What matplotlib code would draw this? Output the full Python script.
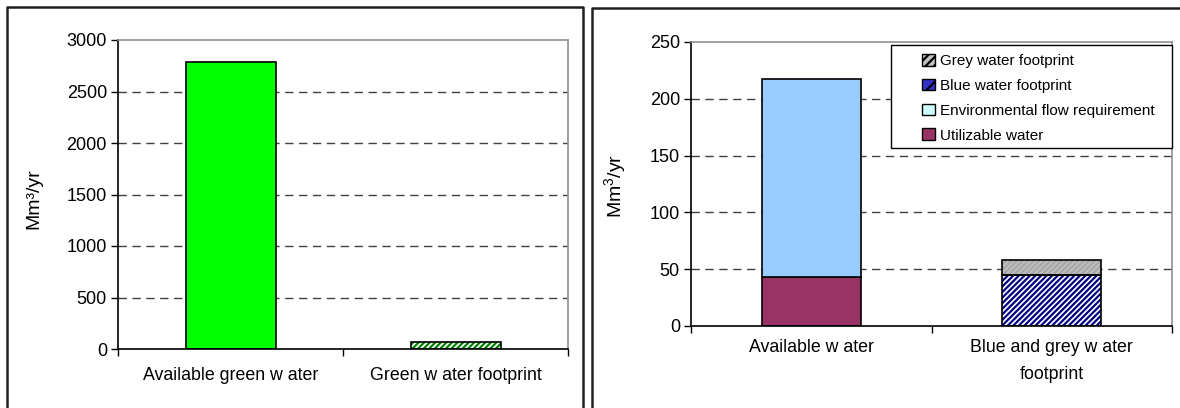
import matplotlib
matplotlib.use("Agg")
import matplotlib.pyplot as plt
from matplotlib.patches import Patch, Rectangle
from matplotlib.lines import Line2D

plt.rcParams['font.family'] = ['Liberation Sans', 'DejaVu Sans']
plt.rcParams['mathtext.fontset'] = 'custom'
plt.rcParams['mathtext.rm'] = 'Liberation Sans'
plt.rcParams['mathtext.default'] = 'rm'
plt.rcParams['hatch.linewidth'] = 1.6

# ---- data ----
left_categories = ["Available green w ater", "Green w ater footprint"]
left_values = [2790, 70]
left_ticks = [0, 500, 1000, 1500, 2000, 2500, 3000]

right_categories = ["Available w ater", "Blue and grey w ater\nfootprint"]
utilizable = [43, 0]
env_flow = [174, 0]
blue_fp = [0, 45]
grey_fp = [0, 13]
right_ticks = [0, 50, 100, 150, 200, 250]

W, H = 1180, 408
fig = plt.figure(figsize=(W / 100, H / 100), dpi=100)


def rect(l, t, r, b):
    return [l / W, 1 - b / H, (r - l) / W, (b - t) / H]


def style_axes(ax, ticks, ymax):
    ax.set_xlim(-0.5, 1.5)
    ax.set_ylim(0, ymax)
    ax.set_yticks(ticks)
    ax.tick_params(axis='y', direction='out', length=5, width=1, labelsize=13, pad=3, color='black')
    ax.set_xticks([-0.5, 0.5, 1.5], minor=False)
    ax.set_xticklabels([])
    ax.tick_params(axis='x', direction='out', length=5, width=1, color='black')
    for s in ('left', 'bottom'):
        ax.spines[s].set_color('black')
        ax.spines[s].set_linewidth(1.2)
    for s in ('top', 'right'):
        ax.spines[s].set_color('#909090')
        ax.spines[s].set_linewidth(1.2)
    for t in ticks:
        if 0 < t < ymax:
            ax.axhline(t, color='#404040', linestyle=(0, (6, 4)), linewidth=1.0, zorder=0)


# ---- left panel ----
ax1 = fig.add_axes(rect(118, 40, 568, 349))
style_axes(ax1, left_ticks, 3000)
ax1.bar([0], [left_values[0]], width=0.4, color='#00FF00', edgecolor='black', linewidth=1.2, zorder=2)
ax1.bar([1], [left_values[1]], width=0.4, color='white', edgecolor='#008000', hatch='//////', linewidth=0, zorder=2)
ax1.bar([1], [left_values[1]], width=0.4, fill=False, edgecolor='black', linewidth=1.2, zorder=3)
for i, lab in enumerate(left_categories):
    ax1.text(i, -0.085, lab, transform=ax1.get_xaxis_transform(), ha='center', va='center', fontsize=12.8)
ax1.set_ylabel("Mm³/yr", fontsize=14)
ax1.yaxis.set_label_coords(-0.167, 0.487)

# ---- right panel ----
ax2 = fig.add_axes(rect(691, 42, 1172, 326))
style_axes(ax2, right_ticks, 250)
bw = 0.41
ax2.bar([0], [utilizable[0]], width=bw, color='#993366', edgecolor='black', linewidth=1.2, zorder=2)
ax2.bar([0], [env_flow[0]], bottom=[utilizable[0]], width=bw, color='#99CCFF', edgecolor='black', linewidth=1.2, zorder=2)
ax2.bar([1], [blue_fp[1]], width=bw, color='white', edgecolor='#000080', hatch='//////', linewidth=0, zorder=2)
ax2.bar([1], [blue_fp[1]], width=bw, fill=False, edgecolor='black', linewidth=1.2, zorder=3)
ax2.bar([1], [grey_fp[1]], bottom=[blue_fp[1]], width=bw, color='#C0C0C0', edgecolor='#A8A8A8', hatch='//////', linewidth=0, zorder=2)
ax2.bar([1], [grey_fp[1]], bottom=[blue_fp[1]], width=bw, fill=False, edgecolor='black', linewidth=1.2, zorder=3)
for i, lab in enumerate(right_categories):
    ax2.text(i, -0.045, lab, transform=ax2.get_xaxis_transform(), ha='center', va='top', fontsize=12.8, linespacing=1.75)
ax2.set_ylabel("Mm$^3$/yr", fontsize=14)
ax2.yaxis.set_label_coords(-0.132, 0.493)

# legend frame drawn as a box, legend entries placed inside it
ax2.add_patch(Rectangle((0.415, 0.627), 0.585, 0.362, transform=ax2.transAxes, facecolor='white',
                        edgecolor='black', linewidth=1.0, zorder=4, clip_on=False))
handles = [
    Patch(facecolor='#C0C0C0', edgecolor='black', hatch='////'),
    Patch(facecolor='#3333CC', edgecolor='black', hatch='//'),
    Patch(facecolor='#CCFFFF', edgecolor='black'),
    Patch(facecolor='#993366', edgecolor='black'),
]
labels = ["Grey water footprint", "Blue water footprint", "Environmental flow requirement", "Utilizable water"]
leg = ax2.legend(handles, labels, loc='upper left', bbox_to_anchor=(0.465, 0.985), borderaxespad=0,
                 frameon=False, fontsize=11, handlelength=0.8, handleheight=0.8, handletextpad=0.35,
                 labelspacing=0.7, borderpad=0.5)
leg.set_zorder(5)

# ---- panel frames ----
def fline(xs, ys, color='#202020', lw=1.8):
    fig.add_artist(Line2D([x / W for x in xs], [1 - y / H for y in ys], color=color, linewidth=lw,
                          transform=fig.transFigure))

fline([7, 7, 583, 583], [410, 7, 7, 410])
fline([592, 592, 1182], [410, 8, 8])

fig.savefig("out.png", dpi=100)
